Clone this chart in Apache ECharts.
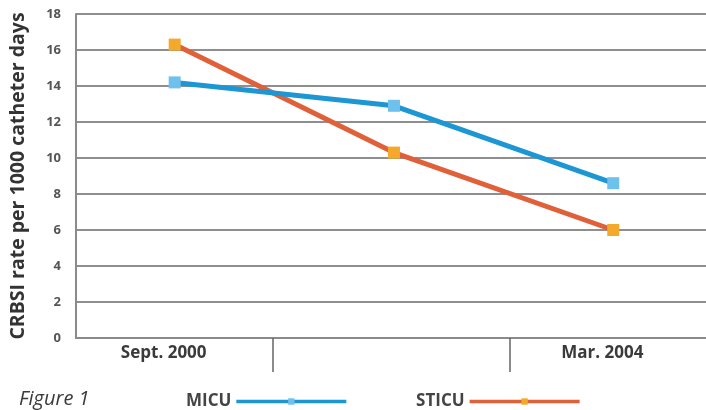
<!DOCTYPE html>
<html>
<head>
<meta charset="utf-8">
<script src="https://cdn.jsdelivr.net/npm/echarts@6/dist/echarts.min.js"></script>
<style>
  html, body { margin: 0; padding: 0; background: #fff; }
  #chart { width: 706px; height: 410px; }
</style>
</head>
<body>
<div id="chart"></div>
<script>
// Survey periods (0 = first survey, 2 = last survey)
const periods = [0, 1, 2];
const micuRates = [14.2, 12.9, 8.6];
const sticuRates = [16.3, 10.3, 6.0];
const seriesNames = ['MICU', 'STICU'];
const xTickLabels = ['Sept. 2000', 'Mar. 2004'];
const yTicks = [0, 2, 4, 6, 8, 10, 12, 14, 16, 18];

// where the two date captions sit along the period axis
const xLabelAt = [-0.05, 1.95];

const pairs = (ys) => periods.map((p, i) => [p, ys[i]]);

const chart = echarts.init(document.getElementById('chart'), null, { renderer: 'canvas' });

const font = '"Open Sans", "Noto Sans", sans-serif';

chart.setOption({
  backgroundColor: '#ffffff',
  animation: false,
  title: {
    text: 'Figure 1',
    left: 14,
    top: 384,
    textStyle: { fontFamily: font, fontStyle: 'italic', fontWeight: 'normal', fontSize: 20, color: '#3a3a3a' }
  },
  legend: {
    data: seriesNames,
    left: 181,
    top: 388,
    align: 'right',
    itemWidth: 110,
    itemHeight: 8,
    itemGap: 68,
    lineStyle: { width: 3.5 },
    textStyle: { fontFamily: font, fontWeight: 'bold', fontSize: 17, color: '#444' }
  },
  grid: { left: 73, right: -5, top: 14, bottom: 72 },
  xAxis: {
    type: 'value',
    min: -0.45,
    max: 2.423,
    splitLine: { show: false },
    axisLine: { show: true, onZero: false, lineStyle: { color: '#8a8a8a', width: 2 } },
    axisTick: {
      show: true,
      customValues: [0.446, 1.53],
      length: 34,
      lineStyle: { color: '#666', width: 1.5 }
    },
    axisLabel: {
      show: true,
      customValues: xLabelAt,
      showMinLabel: true,
      showMaxLabel: true,
      hideOverlap: false,
      formatter: (v) => {
        let best = 0;
        xLabelAt.forEach((p, i) => { if (Math.abs(p - v) < Math.abs(xLabelAt[best] - v)) best = i; });
        return xTickLabels[best];
      },
      margin: 7,
      fontFamily: font,
      fontWeight: 'bold',
      fontSize: 17,
      color: '#3a3a3a'
    }
  },
  yAxis: {
    type: 'value',
    min: yTicks[0],
    max: yTicks[yTicks.length - 1],
    interval: 2,
    name: 'CRBSI rate per 1000 catheter days',
    nameLocation: 'middle',
    nameGap: 48,
    nameTextStyle: { fontFamily: font, fontWeight: 'bold', fontSize: 19.5, color: '#333' },
    axisLine: { show: true, onZero: false, lineStyle: { color: '#8a8a8a', width: 2 } },
    axisTick: { show: false },
    axisLabel: { margin: 15, fontFamily: font, fontWeight: 'bold', fontSize: 13, color: '#555' },
    splitLine: { show: true, lineStyle: { color: '#8f8f8f', width: 2 } }
  },
  series: [
    {
      name: seriesNames[0],
      type: 'line',
      data: pairs(micuRates),
      symbol: 'rect',
      symbolSize: 12,
      lineStyle: { color: '#1c97d4', width: 5 },
      itemStyle: { color: '#6ec1ec' },
      z: 3
    },
    {
      name: seriesNames[1],
      type: 'line',
      data: pairs(sticuRates),
      symbol: 'rect',
      symbolSize: 12,
      lineStyle: { color: '#e0603a', width: 5 },
      itemStyle: { color: '#f4a92a' },
      z: 2
    }
  ]
});
</script>
</body>
</html>
